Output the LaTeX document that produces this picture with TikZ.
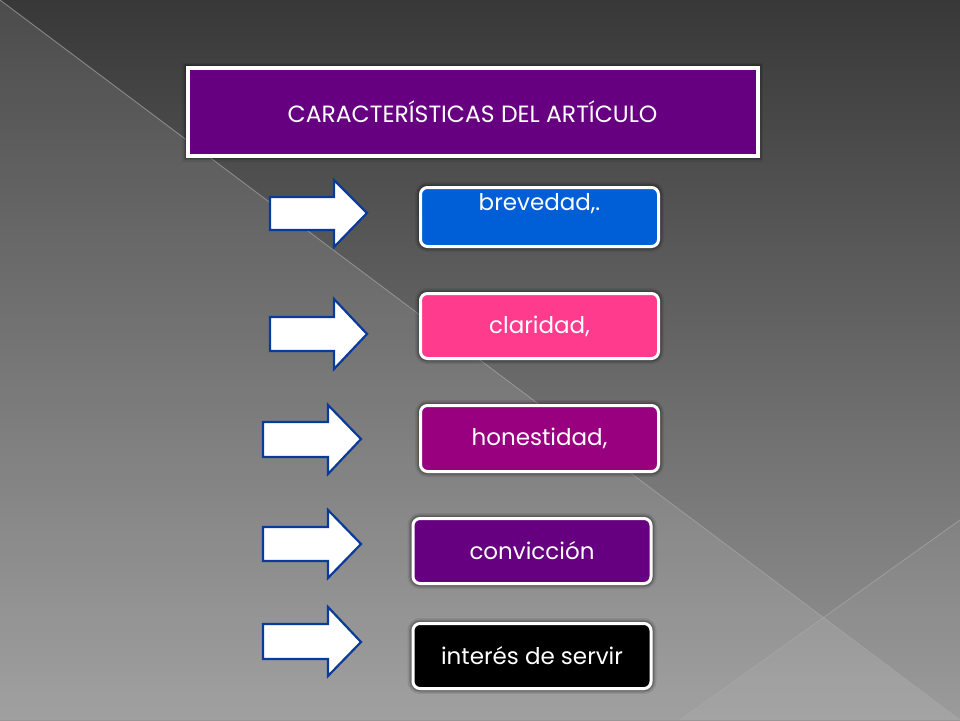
\documentclass[tikz,border=0pt]{standalone}
\usepackage{fontspec}
\setmainfont{Poppins}
\definecolor{bgtop}{HTML}{383838}
\definecolor{bgbot}{HTML}{969696}
\definecolor{titlepurple}{HTML}{660080}
\definecolor{boxblue}{HTML}{005ED6}
\definecolor{boxpink}{HTML}{FF3B8D}
\definecolor{boxmagenta}{HTML}{990080}
\definecolor{boxpurple}{HTML}{660080}
\definecolor{arrowblue}{HTML}{0A3A9C}
\definecolor{bgline}{HTML}{A8A8A8}
\tikzset{
  glow/.style={preaction={draw=black,line width=11pt,opacity=0.08},
               preaction={draw=black,line width=8pt,opacity=0.12},
               preaction={draw=black,line width=5.5pt,opacity=0.15}},
  titlebox/.style={glow,draw=white,line width=4pt,fill=titlepurple,text=white,
    minimum width=570pt,minimum height=88pt,inner sep=0pt,
    font=\fontsize{23.5}{28}\selectfont},
  itembox/.style={glow,draw=white,line width=3pt,rounded corners=7pt,text=white,
    minimum width=238pt,inner sep=0pt,font=\fontsize{23}{28}\selectfont},
  itemlabel/.style={text=white,inner sep=0pt,font=\fontsize{23}{28}\selectfont},
  fatarrow/.style={draw=arrowblue,line width=2.2pt,fill=white,line join=miter}
}
\begin{document}
\begin{tikzpicture}[x=1pt,y=-1pt]
\useasboundingbox (0,0) rectangle (960,720);
% background
\shade[top color=bgtop,bottom color=bgbot] (0,0) rectangle (960,720);
\fill[white,opacity=0.10] (0,0) -- (960,720) -- (0,720) -- cycle;
\fill[white,opacity=0.05] (960,520) -- (680,720) -- (960,720) -- cycle;
\draw[bgline,line width=0.8pt,opacity=0.7] (0,0) -- (960,720);
\draw[bgline,line width=0.8pt,opacity=0.7] (960,520) -- (680,720);
% title
\node[titlebox] (title) at (472.5,112) {CARACTERÍSTICAS DEL ARTÍCULO};
% boxes
\node[itembox,fill=boxblue,minimum height=59pt] (b1) at (539.5,217) {};
\node[itemlabel] (b1t) at (539.5,204) {brevedad,.};
\node[itembox,fill=boxpink,minimum height=65pt] (b2) at (539.5,326) {claridad,};
\node[itembox,fill=boxmagenta,minimum height=66pt] (b3) at (539.5,438.5) {honestidad,};
\node[itembox,fill=boxpurple,minimum height=65pt] (b4) at (532,551) {convicción};
\node[itembox,fill=black,minimum height=65pt] (b5) at (532,656) {interés de servir};
% arrows
\draw[fatarrow] (270,197) -- (334,197) -- (334,180) -- (367,213) -- (334,247) -- (334,230) -- (270,230) -- cycle;
\draw[fatarrow] (270,317) -- (334,317) -- (334,299) -- (367,334) -- (334,369) -- (334,351) -- (270,351) -- cycle;
\draw[fatarrow] (263,422) -- (328,422) -- (328,405) -- (361,439) -- (328,474) -- (328,457) -- (263,457) -- cycle;
\draw[fatarrow] (263,527) -- (328,527) -- (328,510) -- (361,544) -- (328,578) -- (328,561) -- (263,561) -- cycle;
\draw[fatarrow] (263,624) -- (328,624) -- (328,607) -- (361,642) -- (328,676) -- (328,659) -- (263,659) -- cycle;
\end{tikzpicture}
\end{document}
